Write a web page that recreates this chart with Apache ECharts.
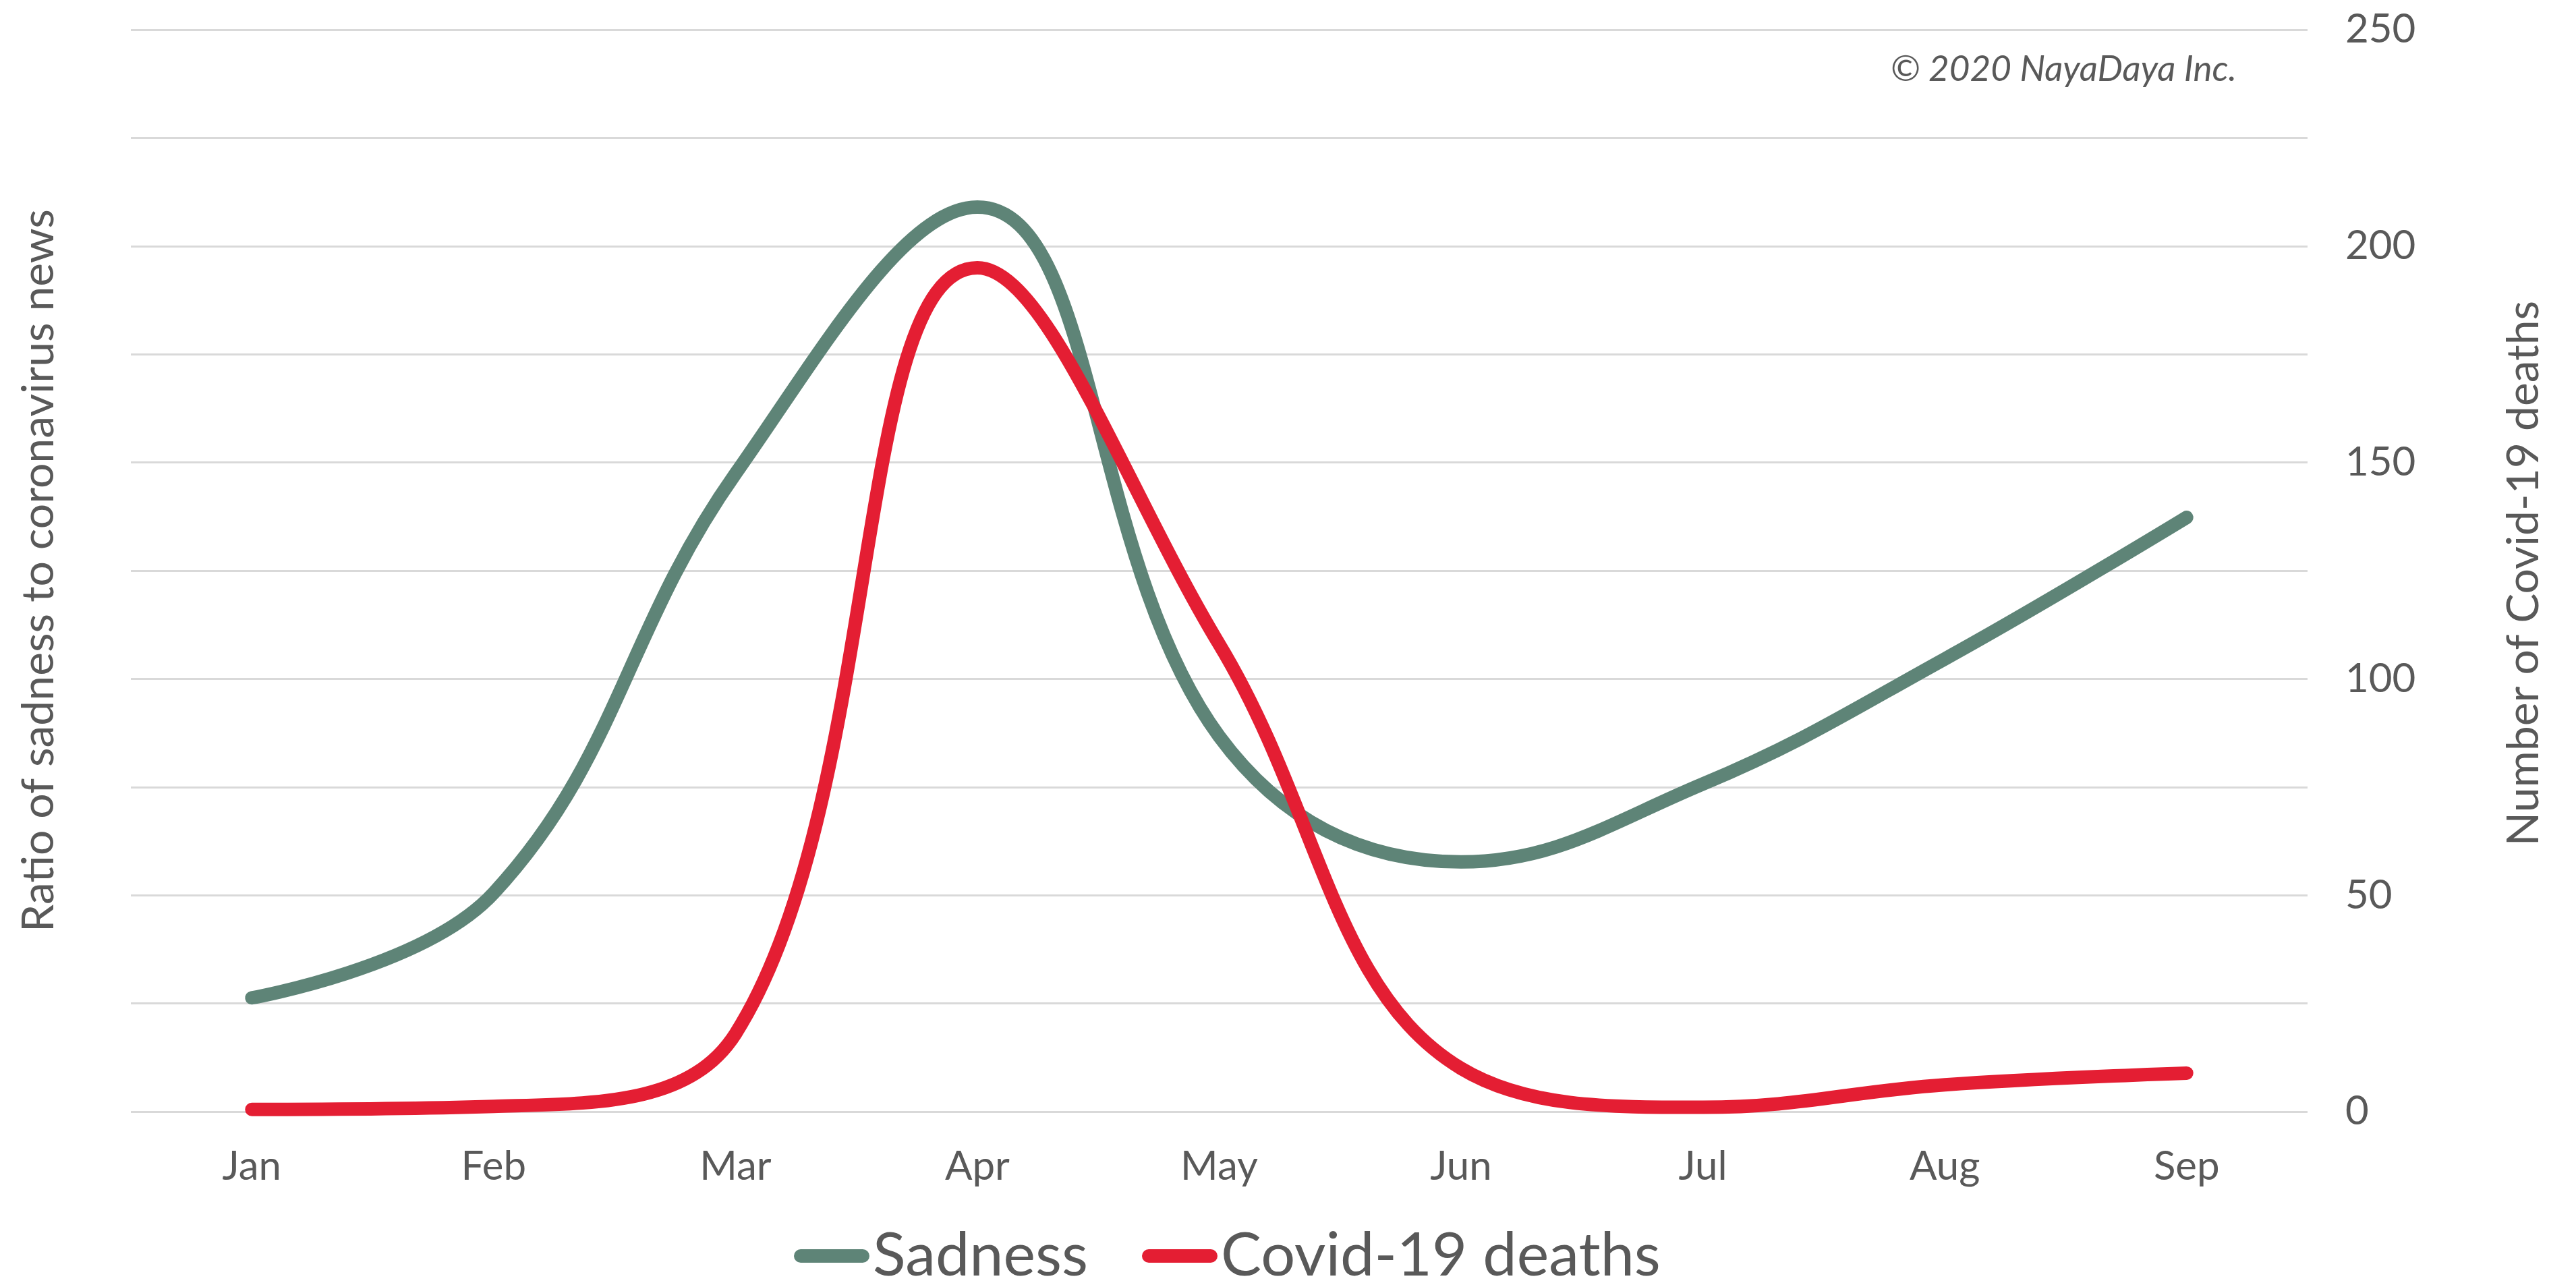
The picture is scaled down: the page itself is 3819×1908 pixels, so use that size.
<!DOCTYPE html>
<html>
<head>
<meta charset="utf-8">
<title>Sadness vs Covid-19 deaths</title>
<script src="https://cdn.jsdelivr.net/npm/echarts@6/dist/echarts.min.js"></script>
<style>
  html, body { margin: 0; padding: 0; background: #ffffff; }
  #chart { width: 3819px; height: 1908px; }
</style>
</head>
<body>
<div id="chart"></div>
<script>
// Monthly data, January to September 2020
const months = ['Jan', 'Feb', 'Mar', 'Apr', 'May', 'Jun', 'Jul', 'Aug', 'Sep'];
// Ratio of sadness to coronavirus news (left axis, unlabelled)
const sadness = [0.263, 0.505, 1.474, 2.09, 0.867, 0.577, 0.757, 1.046, 1.373];
// Number of Covid-19 deaths (right axis)
const deaths = [0.5, 1.2, 18, 195, 108, 10, 1, 6.2, 8.9];
// Right axis tick labels
const deathTicks = [0, 50, 100, 150, 200, 250];

const seriesNames = ['Sadness', 'Covid-19 deaths'];
const colors = ['#5e8477', '#e41e33'];
const textColor = '#595959';
const font = 'Lato';

const chart = echarts.init(document.getElementById('chart'), null, { renderer: 'canvas' });

// rounded bar used as the legend key
const pill = 'path://M10,0 L102,0 A10,10 0 0 1 102,20 L10,20 A10,10 0 0 1 10,0 Z';

chart.setOption({
  backgroundColor: '#ffffff',
  animation: false,
  color: colors,
  textStyle: { fontFamily: font, color: textColor },
  grid: { left: 194, right: 398, top: 44, bottom: 260, containLabel: false },
  legend: {
    data: seriesNames,
    left: 1172,
    top: 1812,
    itemWidth: 112,
    itemHeight: 20,
    itemGap: 80,
    icon: pill,
    textStyle: { fontFamily: font, fontSize: 90, color: textColor }
  },
  xAxis: {
    type: 'category',
    data: months,
    boundaryGap: true,
    axisLine: { show: false },
    axisTick: { show: false },
    axisLabel: { fontFamily: font, fontSize: 60, color: textColor, margin: 52 }
  },
  yAxis: [
    {
      type: 'value',
      min: 0,
      max: 2.5,
      interval: 0.25,
      position: 'left',
      axisLine: { show: false },
      axisTick: { show: false },
      axisLabel: { show: false },
      splitLine: { show: true, lineStyle: { color: '#d9d9d9', width: 3 } }
    },
    {
      type: 'value',
      min: 0,
      max: deathTicks[deathTicks.length - 1],
      interval: deathTicks[1] - deathTicks[0],
      position: 'right',
      axisLine: { show: false },
      axisTick: { show: false },
      splitLine: { show: false },
      axisLabel: { fontFamily: font, fontSize: 60, color: textColor, margin: 56, align: 'left' }
    }
  ],
  series: [
    {
      name: seriesNames[0],
      type: 'line',
      yAxisIndex: 0,
      data: sadness,
      smooth: 0.4,
      showSymbol: false,
      symbol: 'none',
      lineStyle: { width: 20, color: colors[0], cap: 'round', join: 'round' },
      z: 2
    },
    {
      name: seriesNames[1],
      type: 'line',
      yAxisIndex: 1,
      data: deaths,
      smooth: 0.4,
      showSymbol: false,
      symbol: 'none',
      lineStyle: { width: 20, color: colors[1], cap: 'round', join: 'round' },
      z: 3
    }
  ],
  graphic: [
    {
      type: 'text',
      right: 3819 - 3316,
      top: 76,
      style: {
        text: '\u00a9 2020 NayaDaya Inc.',
        fontFamily: font,
        fontStyle: 'italic',
        fontSize: 53,
        fill: textColor
      }
    },
    {
      type: 'text',
      x: 58,
      y: 846,
      rotation: Math.PI / 2,
      style: {
        text: 'Ratio of sadness to coronavirus news',
        fontFamily: font,
        fontSize: 66,
        fill: textColor,
        align: 'center',
        verticalAlign: 'middle'
      }
    },
    {
      type: 'text',
      x: 3742,
      y: 850,
      rotation: Math.PI / 2,
      style: {
        text: 'Number of Covid-19 deaths',
        fontFamily: font,
        fontSize: 66,
        fill: textColor,
        align: 'center',
        verticalAlign: 'middle'
      }
    }
  ]
});
</script>
</body>
</html>
